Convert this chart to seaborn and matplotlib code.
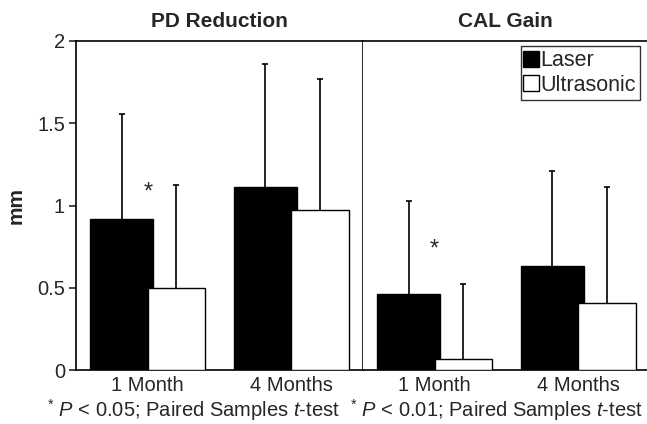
import matplotlib
matplotlib.use("Agg")
import matplotlib.pyplot as plt
import seaborn as sns
import pandas as pd
from matplotlib.lines import Line2D

sns.set_style("white")
plt.rcParams["font.family"] = ["Liberation Sans", "DejaVu Sans"]
plt.rcParams["mathtext.fontset"] = "custom"
plt.rcParams["mathtext.rm"] = "Liberation Sans"
plt.rcParams["mathtext.it"] = "Liberation Sans:italic"

months = ["1 Month", "4 Months"]
groups = ["Laser", "Ultrasonic"]

pd_laser = [0.915, 1.115]
pd_laser_sd = [0.64, 0.745]
pd_ultra = [0.50, 0.97]
pd_ultra_sd = [0.625, 0.80]

cal_laser = [0.46, 0.635]
cal_laser_sd = [0.57, 0.575]
cal_ultra = [0.065, 0.41]
cal_ultra_sd = [0.46, 0.70]

panel_titles = ["PD Reduction", "CAL Gain"]
footnotes = [r"$^{*}$ $\it{P}$ < 0.05; Paired Samples $\it{t}$-test",
             r"$^{*}$ $\it{P}$ < 0.01; Paired Samples $\it{t}$-test"]
star_pos = [1.08, 0.735]

palette = {"Laser": "black", "Ultrasonic": "white"}
LW = 1.2

W, H = 647, 424
fig = plt.figure(figsize=(W / 100, H / 100), dpi=100)
ax1 = fig.add_axes([76 / W, 1 - 370 / H, (363 - 76) / W, (370 - 41) / H])
ax2 = fig.add_axes([363 / W, 1 - 370 / H, (647 - 363) / W, (370 - 41) / H])


def draw_panel(ax, laser, laser_sd, ultra, ultra_sd, title, star, xlim):
    df = pd.DataFrame({
        "month": months * 2,
        "group": [groups[0]] * 2 + [groups[1]] * 2,
        "value": list(laser) + list(ultra),
    })
    sns.barplot(data=df, x="month", y="value", hue="group", order=months,
                hue_order=groups, palette=palette, width=0.8, errorbar=None,
                edgecolor="black", linewidth=1.0, legend=False, ax=ax)
    sds = list(laser_sd) + list(ultra_sd)
    vals = list(laser) + list(ultra)
    patches = ax.patches[:4]
    for i, p in enumerate(patches):
        if i < 2:
            p.set_width(p.get_width() + 0.04)
            p.set_zorder(2)
        else:
            p.set_zorder(3)
    for i, p in enumerate(patches):
        cx = p.get_x() + p.get_width() / 2
        _, caps, _ = ax.errorbar([cx], [vals[i]], yerr=[[0], [sds[i]]],
                                 fmt="none", ecolor="black", elinewidth=LW,
                                 capsize=2.5, capthick=LW, zorder=1)
        caps[0].set_visible(False)
    ax.text(0, star, "*", ha="center", va="center", fontsize=17)
    ax.set_xlim(*xlim)
    ax.set_ylim(0, 2)
    ax.set_xlabel("")
    ax.set_ylabel("")
    ax.tick_params(axis="x", length=0, labelsize=14.5, pad=4)
    ax.set_title(title, fontsize=15, fontweight="bold", pad=10)
    for s in ax.spines.values():
        s.set_linewidth(LW)
        s.set_color("black")


draw_panel(ax1, pd_laser, pd_laser_sd, pd_ultra, pd_ultra_sd,
           panel_titles[0], star_pos[0], (-0.5, 1.5))
draw_panel(ax2, cal_laser, cal_laser_sd, cal_ultra, cal_ultra_sd,
           panel_titles[1], star_pos[1], (-0.5, 1.48))

ax1.set_yticks([0, 0.5, 1, 1.5, 2])
ax1.set_yticklabels(["0", "0.5", "1", "1.5", "2"])
ax1.tick_params(axis="y", direction="out", length=5, width=LW, labelsize=14.5,
                left=True, pad=3)
ax1.set_ylabel("mm", fontsize=15, fontweight="bold", labelpad=8)

ax2.set_yticks([])
ax2.spines["right"].set_visible(False)
ax2.spines["left"].set_visible(False)

# footnotes below each panel
fig.text(193 / W, 1 - 410 / H, footnotes[0], ha="center", va="center",
         fontsize=14.5)
fig.text(496 / W, 1 - 410 / H, footnotes[1], ha="center", va="center",
         fontsize=14.5)

handles = [Line2D([], [], marker="s", linestyle="none", markersize=11,
                  markerfacecolor=palette[g], markeredgecolor="black",
                  markeredgewidth=1.0, label=g) for g in groups]
leg = fig.legend(handles=handles, loc="upper right",
                 bbox_to_anchor=(640 / W, 1 - 46 / H), fontsize=15.5,
                 frameon=True, fancybox=False, handlelength=0.55,
                 handletextpad=0.15, borderpad=0.2, labelspacing=0.15,
                 borderaxespad=0)
leg.get_frame().set_edgecolor("black")
leg.get_frame().set_linewidth(1.0)

fig.savefig("out.png", dpi=100)
